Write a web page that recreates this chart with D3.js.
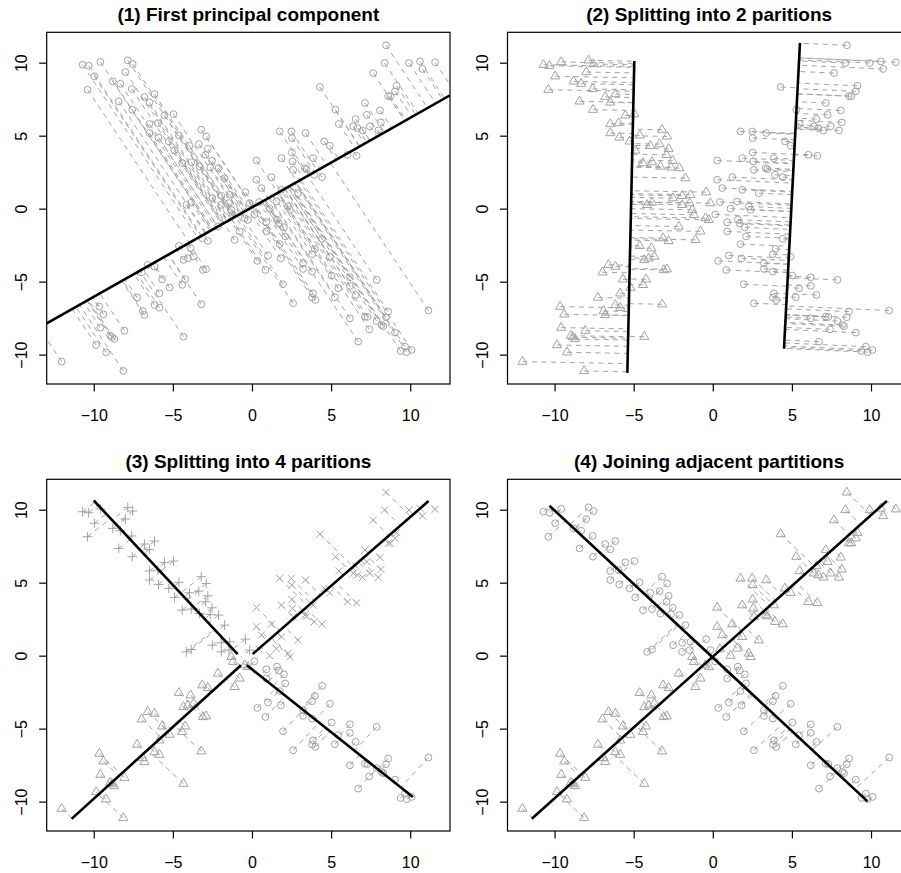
<!DOCTYPE html>
<html><head><meta charset="utf-8">
<script src="https://cdn.jsdelivr.net/npm/d3@7"></script>
<style>body{margin:0;background:#fff}svg{display:block}</style>
</head><body>
<svg id="chart" width="901" height="873"></svg>
<script>
// ---- data ----
const descPoints = [
[-10.70,9.86],[-10.32,9.79],[-9.58,10.05],[-9.96,9.07],[-10.39,8.15],[-7.85,10.16],[-7.54,9.91],[-8.00,9.36],
[-8.80,8.72],[-8.32,8.56],[-7.60,8.20],[-8.42,7.35],[-7.57,6.78],[-6.80,7.65],[-6.16,7.85],[-6.48,7.28],
[-5.53,6.39],[-4.96,6.48],[-6.48,5.80],[-5.95,5.86],[-6.48,5.18],[-5.91,4.88],[-5.26,4.61],[-4.62,5.02],
[-4.90,3.99],[-3.21,5.41],[-2.89,4.95],[-3.36,4.42],[-3.95,4.31],[-2.79,4.10],[-2.93,3.69],[-2.53,3.28],
[-4.41,3.12],[-3.84,3.19],[-3.31,2.89],[-2.64,2.83],[-2.11,2.78],[-1.73,2.09],[-2.51,0.72],[-1.94,0.88],
[-1.41,0.95],[-4.15,0.26],[-3.84,0.42],[-1.94,0.26],[-1.46,0.38],[-0.42,1.13],[-0.15,0.38],
[0.15,-0.39],[0.91,-0.93],[0.91,-1.56],[1.58,-0.75],[1.70,-1.02],[2.02,-1.28],[2.10,-1.90],[1.75,-2.43],
[0.34,-3.58],[1.01,-3.21],[1.82,-3.40],[0.85,-4.20],[1.96,-5.18],[2.60,-6.48],[3.97,-2.76],[3.80,-3.12],
[4.43,-2.07],[4.92,-3.30],[3.23,-3.74],[3.23,-4.13],[3.80,-4.31],[5.03,-4.58],[6.19,-4.70],[6.19,-5.29],
[7.88,-4.88],[6.55,-5.91],[5.45,-5.45],[5.24,-6.07],[3.86,-5.80],[3.80,-6.09],[4.01,-6.25],[6.19,-7.51],
[7.14,-7.40],[7.30,-7.42],[7.41,-8.27],[7.88,-7.70],[8.19,-7.97],[8.30,-8.05],[8.47,-7.44],[8.61,-7.05],
[9.04,-8.49],[6.71,-9.11],[9.67,-9.45],[10.09,-9.68],[9.40,-9.75],[9.78,-9.83],[11.15,-6.98]
];
const ascPoints = [
[8.47,11.19],[8.38,9.98],[7.66,9.29],[9.92,9.98],[10.62,10.09],[10.77,9.57],[11.57,10.03],[4.29,8.33],
[9.14,8.42],[9.04,8.04],[8.61,7.71],[8.75,7.70],[7.14,7.24],[5.28,6.78],[8.09,6.73],[7.25,6.43],
[6.55,6.14],[5.49,5.80],[6.40,5.64],[6.67,5.52],[6.99,5.36],[7.45,5.64],[8.15,5.91],[7.98,5.36],
[1.75,5.29],[2.49,5.29],[3.38,5.18],[2.52,4.84],[4.56,4.61],[4.92,4.31],[6.04,3.69],[6.61,3.62],
[2.52,3.85],[1.86,3.46],[2.56,3.24],[3.86,3.46],[0.28,3.30],[3.34,2.78],[3.45,2.70],[3.93,2.32],
[4.43,2.16],[2.60,2.66],[1.23,2.16],[0.28,1.98],[1.86,1.29],[2.91,1.06],[0.60,1.41],[1.54,0.49],
[2.28,0.15],[2.39,-0.08],[1.12,0.00],[0.45,0.45],
[-12.03,-10.48],[-8.13,-11.12],[-9.22,-9.84],[-9.85,-9.34],[-8.97,-8.70],[-8.70,-8.93],[-8.85,-8.80],
[-8.06,-8.36],[-9.58,-8.15],[-9.65,-6.71],[-9.39,-7.24],[-4.33,-8.77],[-7.26,-6.09],[-6.90,-7.01],
[-6.80,-7.28],[-6.16,-6.60],[-5.85,-6.78],[-3.20,-6.55],[-6.97,-4.36],[-6.59,-3.85],[-6.16,-3.97],
[-5.68,-4.84],[-5.21,-5.41],[-5.85,-5.80],[-4.41,-5.22],[-4.22,-4.84],[-4.62,-2.55],[-3.88,-2.71],
[-4.33,-3.51],[-4.05,-3.40],[-3.69,-3.28],[-3.10,-4.20],[-2.90,-4.15],[-3.14,-2.02],[-2.79,-2.21],
[-2.15,-1.22],[-1.30,-0.08],[-1.20,-0.42],[-0.46,-0.65],[-0.25,-0.77],[-0.78,-1.56],[-1.10,-2.14]
];
const panelTitles = ["(1) First principal component", "(2) Splitting into 2 paritions",
                     "(3) Splitting into 4 paritions", "(4) Joining adjacent partitions"];
const tickValues = [-10, -5, 0, 5, 10];
// first principal component line (slope, intercept)
const pc1Line = [0.613, 0.09];
// fitted segments [[x1,y1],[x2,y2]]
const halfLeftLine  = [[-4.96, 10.12], [-5.40, -11.25]];
const halfRightLine = [[5.51, 11.36], [4.50, -9.60]];
const quadPlusLine  = [[-10.00, 10.63], [-0.91, 0.11]];
const quadCrossLine = [[0.04, 0.11], [11.16, 10.59]];
const quadTriLine   = [[-11.40, -11.18], [-0.70, -0.66]];
const quadCircLine  = [[-0.32, -0.66], [10.17, -9.69]];
const joinDescLine  = [[-10.32, 10.27], [9.78, -9.98]];
const joinAscLine   = [[-11.44, -11.17], [11.00, 10.60]];

// ---- build ----
const points = descPoints.map(p => ({x:p[0], y:p[1], arm:"d"}))
  .concat(ascPoints.map(p => ({x:p[0], y:p[1], arm:"a"})));
points.forEach(p => { p.half = p.x < 0 ? "L" : "R"; });

const svg = d3.select("#chart");
const FONT = "'Liberation Sans', Arial, Helvetica, sans-serif";
const GREY = "#a3a3a3";
const colLeft = [46.7, 507.5], rowTop = [32.3, 479.3];
const boxW = 403.3, boxH = 351.7;

function padded(ext){ const r = ext[1]-ext[0]; return [ext[0]-0.04*r, ext[1]+0.04*r]; }
const xDom = padded(d3.extent(points, d => d.x));
const yDom = padded(d3.extent(points, d => d.y));

const R0 = 3.4;
function sym(g, type, cx, cy){
  if (type === "circle") {
    g.append("circle").attr("cx",cx).attr("cy",cy).attr("r",R0)
      .attr("fill","none").attr("stroke",GREY).attr("stroke-width",1);
  } else {
    let d;
    if (type === "tri") {
      const r = 1.5551*R0, xc = 1.3468*R0, yc = 0.7776*R0;
      d = `M${cx},${cy-r}L${cx+xc},${cy+yc}L${cx-xc},${cy+yc}Z`;
    } else if (type === "plus") {
      const h = 1.4142*R0;
      d = `M${cx-h},${cy}L${cx+h},${cy}M${cx},${cy-h}L${cx},${cy+h}`;
    } else {
      const h = R0*1.05;
      d = `M${cx-h},${cy-h}L${cx+h},${cy+h}M${cx-h},${cy+h}L${cx+h},${cy-h}`;
    }
    g.append("path").attr("d",d).attr("fill","none").attr("stroke",GREY).attr("stroke-width",1);
  }
}
function project(p, a, b){
  const dx = b[0]-a[0], dy = b[1]-a[1];
  const t = ((p.x-a[0])*dx + (p.y-a[1])*dy) / (dx*dx+dy*dy);
  return [a[0]+t*dx, a[1]+t*dy];
}

function panel(i, lineFor, symFor, segments, fullLine){
  const L = colLeft[i%2], T = rowTop[Math.floor(i/2)];
  const x = d3.scaleLinear().domain(xDom).range([L, L+boxW]);
  const y = d3.scaleLinear().domain(yDom).range([T+boxH, T]);
  const g = svg.append("g");
  const cid = "clip"+i;
  svg.append("clipPath").attr("id",cid).append("rect")
    .attr("x",L).attr("y",T).attr("width",boxW).attr("height",boxH);
  const pg = g.append("g").attr("clip-path",`url(#${cid})`);
  // points
  points.forEach(p => sym(pg, symFor(p), x(p.x), y(p.y)));
  // projection segments
  points.forEach(p => {
    const ln = lineFor(p);
    const f = project(p, ln[0], ln[1]);
    pg.append("line").attr("x1",x(p.x)).attr("y1",y(p.y)).attr("x2",x(f[0])).attr("y2",y(f[1]))
      .attr("stroke",GREY).attr("stroke-width",1).attr("stroke-dasharray","5,4.5");
  });
  // fitted lines
  if (fullLine) {
    pg.append("line").attr("x1",x(xDom[0])).attr("y1",y(fullLine[1]+fullLine[0]*xDom[0]))
      .attr("x2",x(xDom[1])).attr("y2",y(fullLine[1]+fullLine[0]*xDom[1]))
      .attr("stroke","#000").attr("stroke-width",2.6);
  }
  segments.forEach(s => {
    pg.append("line").attr("x1",x(s[0][0])).attr("y1",y(s[0][1])).attr("x2",x(s[1][0])).attr("y2",y(s[1][1]))
      .attr("stroke","#000").attr("stroke-width",2.6);
  });
  // box
  g.append("rect").attr("x",L).attr("y",T).attr("width",boxW).attr("height",boxH)
    .attr("fill","none").attr("stroke","#000").attr("stroke-width",1.2);
  // axes
  const xa = g.append("g").attr("transform",`translate(0,${T+boxH})`)
    .call(d3.axisBottom(x).tickValues(tickValues).tickSize(7.5).tickPadding(4).tickFormat(d => d < 0 ? "\u2212"+Math.abs(d) : d));
  const ya = g.append("g").attr("transform",`translate(${L},0)`)
    .call(d3.axisLeft(y).tickValues(tickValues).tickSize(7.5).tickFormat(d => d < 0 ? "\u2212"+Math.abs(d) : d));
  [xa, ya].forEach(a => {
    a.select(".domain").remove();
    a.selectAll(".tick line").attr("stroke","#000").attr("stroke-width",1.2);
    a.selectAll("text").attr("font-family",FONT).attr("font-size",16).attr("fill","#000");
  });
  xa.selectAll("text").attr("y",null).attr("dy",null).attr("dominant-baseline","central")
    .attr("transform","translate(0,31)");
  ya.selectAll(".tick text").attr("x",null).attr("dy",null).attr("text-anchor","middle")
    .attr("dominant-baseline","central").attr("transform","translate(-25,0) rotate(-90)");
  // title
  g.append("text").attr("x",L+boxW/2).attr("y",T-18).attr("text-anchor","middle")
    .attr("dominant-baseline","central").attr("font-family",FONT).attr("font-weight","bold")
    .attr("font-size",19).text(panelTitles[i]);
}

const pc1A = [0, pc1Line[1]], pc1B = [1, pc1Line[1]+pc1Line[0]];
panel(0, p => [pc1A, pc1B], p => "circle", [], pc1Line);
panel(1, p => p.half === "L" ? halfLeftLine : halfRightLine,
      p => p.half === "L" ? "tri" : "circle", [halfLeftLine, halfRightLine], null);
function quad(p){ return p.half === "L" ? (p.arm === "d" ? "plus" : "tri") : (p.arm === "a" ? "cross" : "circle"); }
const quadLineMap = {plus: quadPlusLine, tri: quadTriLine, cross: quadCrossLine, circle: quadCircLine};
panel(2, p => quadLineMap[quad(p)], quad, [quadPlusLine, quadCrossLine, quadTriLine, quadCircLine], null);
panel(3, p => p.arm === "d" ? joinDescLine : joinAscLine,
      p => p.arm === "d" ? "circle" : "tri", [joinDescLine, joinAscLine], null);
</script>
</body></html>
